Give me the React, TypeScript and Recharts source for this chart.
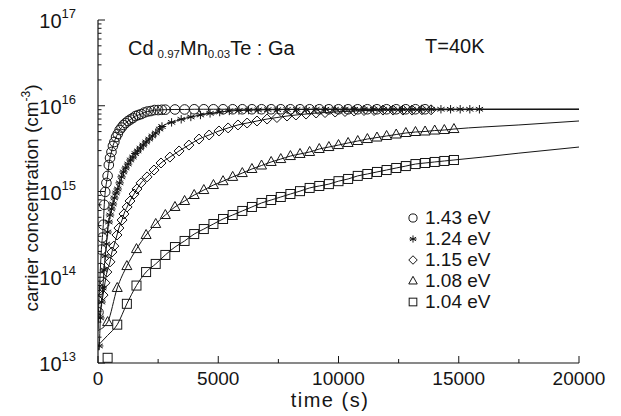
import React from "react";
import { ComposedChart, Line, Scatter, XAxis, YAxis, Legend } from "recharts";

document.body.style.margin = "0";

const FONT = '"Liberation Sans", Arial, Helvetica, sans-serif';
const INK = "#151515";

// 1.43 eV (circles)
const circT = [20, 60, 100, 140, 180, 220, 260, 300, 350, 400, 450, 500, 560, 620, 680, 750, 820, 900, 980, 1060, 1150, 1250, 1350, 1450, 1560, 1680, 1800, 1930, 2060, 2200, 2350, 2500, 2650, 2800, 3200, 3600, 4000, 4400, 4800, 5200, 5600, 6000, 6400, 6800, 7200, 7600, 8000, 8400, 8800, 9200, 9600, 10000, 10400, 10800, 11200, 11600, 12000, 12400, 12800, 13200, 13600];
const circV = [3.9e13, 7.1e13, 1.28e14, 2.1e14, 2.9e14, 4.1e14, 7.0e14, 9.9e14, 1.26e15, 1.52e15, 2.04e15, 2.46e15, 2.89e15, 3.4e15, 3.78e15, 4.32e15, 4.69e15, 5.21e15, 5.57e15, 5.97e15, 6.29e15, 6.64e15, 6.92e15, 7.2e15, 7.59e15, 7.8e15, 8.0e15, 8.34e15, 8.57e15, 8.68e15, 8.91e15, 8.91e15, 8.97e15, 9.0e15, 9.05e15, 9.05e15, 9.1e15, 9.1e15, 9.1e15, 9.1e15, 9.1e15, 9.1e15, 9.1e15, 9.1e15, 9.1e15, 9.1e15, 9.1e15, 9.1e15, 9.1e15, 9.1e15, 9.1e15, 9.1e15, 9.1e15, 9.1e15, 9.1e15, 9.1e15, 9.1e15, 9.1e15, 9.1e15, 9.1e15, 9.1e15];
const circLineT = [0, 16000, 20000];
const circLineV = [2.5e13, 9.1e15, 9.1e15];

// 1.24 eV (stars)
const starT = [50, 100, 150, 200, 250, 300, 350, 400, 450, 500, 560, 620, 680, 750, 820, 900, 980, 1060, 1150, 1250, 1350, 1450, 1550, 1650, 1760, 1880, 2000, 2130, 2260, 2400, 2560, 2660, 3060, 3460, 3860, 4260, 4660, 5060, 5460, 5860, 6260, 6660, 7060, 7460, 7860, 8260, 8660, 9060, 9460, 9860, 10260, 10660, 11060, 11460, 11860, 12260, 12660, 13060, 13460, 13860, 14260, 14660, 15060, 15460, 15860];
const starV = [1.58e13, 3.35e13, 5.14e13, 7.5e13, 1.22e14, 1.77e14, 2.44e14, 3.37e14, 4.41e14, 5.32e14, 6.25e14, 7.15e14, 8.4e14, 9.6e14, 1.07e15, 1.26e15, 1.48e15, 1.69e15, 1.88e15, 2.09e15, 2.33e15, 2.52e15, 2.77e15, 2.97e15, 3.21e15, 3.48e15, 3.78e15, 4.09e15, 4.44e15, 4.81e15, 5.35e15, 5.73e15, 6.4e15, 6.95e15, 7.4e15, 7.8e15, 8.15e15, 8.45e15, 8.7e15, 8.8e15, 8.9e15, 8.95e15, 9.0e15, 9.0e15, 9.05e15, 9.05e15, 9.05e15, 9.1e15, 9.1e15, 9.1e15, 9.1e15, 9.1e15, 9.1e15, 9.1e15, 9.1e15, 9.1e15, 9.1e15, 9.1e15, 9.1e15, 9.1e15, 9.1e15, 9.1e15, 9.1e15, 9.1e15, 9.1e15];
const starLineT = [0, 17500, 20000];
const starLineV = [1.4e13, 9.1e15, 9.1e15];

// 1.15 eV (diamonds)
const diaT = [210, 290, 370, 500, 580, 660, 790, 870, 1000, 1080, 1210, 1330, 1500, 1620, 1790, 2040, 2330, 2620, 2990, 3370, 3780, 4200, 4620, 5030, 5410, 5820, 6200, 6610, 7030, 7440, 7860, 8230, 8650, 9070, 9440, 9860, 10270, 10650, 11060, 11480, 11850, 12270, 12680, 13060, 13470, 13850];
const diaV = [6.2e13, 8.6e13, 1.15e14, 1.51e14, 1.97e14, 2.31e14, 3.11e14, 3.75e14, 4.65e14, 5.47e14, 6.6e14, 7.75e14, 9.35e14, 1.07e15, 1.26e15, 1.48e15, 1.78e15, 2.15e15, 2.52e15, 2.97e15, 3.48e15, 4.09e15, 4.56e15, 5.08e15, 5.51e15, 5.97e15, 6.29e15, 6.64e15, 7.0e15, 7.29e15, 7.59e15, 7.8e15, 8.0e15, 8.23e15, 8.33e15, 8.45e15, 8.57e15, 8.68e15, 8.8e15, 8.8e15, 8.91e15, 8.91e15, 8.91e15, 8.91e15, 8.97e15, 8.97e15];
const diaLineT = [0, 16000, 20000];
const diaLineV = [3.0e13, 9.05e15, 9.1e15];

// 1.08 eV (triangles)
const triT = [400, 800, 1200, 1600, 2000, 2400, 2800, 3200, 3600, 4000, 4400, 4800, 5200, 5600, 6000, 6400, 6800, 7200, 7600, 8000, 8400, 8800, 9200, 9600, 10000, 10400, 10800, 11200, 11600, 12000, 12400, 12800, 13200, 13600, 14000, 14400, 14800];
const triV = [3.0e13, 7.5e13, 1.35e14, 2.13e14, 3.11e14, 4.18e14, 5.32e14, 6.6e14, 7.75e14, 9.1e14, 1.04e15, 1.19e15, 1.32e15, 1.48e15, 1.64e15, 1.83e15, 2.01e15, 2.21e15, 2.39e15, 2.59e15, 2.74e15, 2.89e15, 3.13e15, 3.3e15, 3.48e15, 3.68e15, 3.88e15, 4.09e15, 4.26e15, 4.44e15, 4.62e15, 4.81e15, 4.94e15, 5.01e15, 5.14e15, 5.21e15, 5.35e15];
const triLineT = [0, 16000, 17500, 20000];
const triLineV = [2.4e13, 5.65e15, 5.97e15, 6.64e15];

// 1.04 eV (squares)
const sqT = [400, 800, 1200, 1600, 2000, 2400, 2800, 3200, 3600, 4000, 4400, 4800, 5200, 5600, 6000, 6400, 6800, 7200, 7600, 8000, 8400, 8800, 9200, 9600, 10000, 10400, 10800, 11200, 11600, 12000, 12400, 12800, 13200, 13600, 14000, 14400, 14800];
const sqV = [1.15e13, 2.8e13, 4.9e13, 8.0e13, 1.15e14, 1.43e14, 1.82e14, 2.25e14, 2.65e14, 3.19e14, 3.65e14, 4.18e14, 4.78e14, 5.32e14, 5.93e14, 6.6e14, 7.35e14, 7.96e14, 8.63e14, 9.35e14, 1.01e15, 1.1e15, 1.16e15, 1.22e15, 1.32e15, 1.4e15, 1.52e15, 1.6e15, 1.69e15, 1.78e15, 1.88e15, 1.98e15, 2.09e15, 2.15e15, 2.21e15, 2.27e15, 2.33e15];
const sqOutlierT = [400];
const sqLineT = [0, 400, 16000, 17500, 20000];
const sqLineV = [1.6e13, 2.1e13, 2.52e15, 2.8e15, 3.3e15];

const xTicks = [0, 2500, 5000, 7500, 10000, 12500, 15000, 17500, 20000];
const yMajor = [1e13, 1e14, 1e15, 1e16, 1e17];
const yMinorMantissa = [2, 3, 4, 5, 6, 7, 8, 9];
const yTicks = [
  ...yMajor,
  ...yMajor.slice(0, -1).flatMap((d) => yMinorMantissa.map((m) => m * d)),
].sort((a, b) => a - b);

type Pt = { t: number; v: number };
const toPts = (ts: number[], vs: number[]): Pt[] => ts.map((t, i) => ({ t, v: vs[i] }));
const fitOf = (pts: Pt[], lt: number[], lv: number[], skip: number[] = []) =>
  [...pts.filter((p) => !skip.includes(p.t)), ...toPts(lt, lv)].sort((a, b) => a.t - b.t);

type Kind = "circle" | "star" | "diamond" | "triangle" | "square";

const series: { name: string; kind: Kind; pts: Pt[]; fit: Pt[] }[] = [
  { name: "1.43 eV", kind: "circle", pts: toPts(circT, circV), fit: fitOf(toPts(circT, circV), circLineT, circLineV) },
  { name: "1.24 eV", kind: "star", pts: toPts(starT, starV), fit: fitOf(toPts(starT, starV), starLineT, starLineV) },
  { name: "1.15 eV", kind: "diamond", pts: toPts(diaT, diaV), fit: fitOf(toPts(diaT, diaV), diaLineT, diaLineV) },
  { name: "1.08 eV", kind: "triangle", pts: toPts(triT, triV), fit: fitOf(toPts(triT, triV), triLineT, triLineV) },
  { name: "1.04 eV", kind: "square", pts: toPts(sqT, sqV), fit: fitOf(toPts(sqT, sqV), sqLineT, sqLineV, sqOutlierT) },
];

function Marker({ kind, cx, cy, s = 1 }: { kind: Kind; cx: number; cy: number; s?: number }) {
  const st = { fill: "none", stroke: INK, strokeWidth: 1 };
  if (cx == null || cy == null) return null;
  switch (kind) {
    case "circle":
      return <circle cx={cx} cy={cy} r={4.8 * s} {...st} />;
    case "star": {
      const r = 4.2 * s;
      return (
        <g {...st}>
          {[90, 30, 150, 0].map((a) => {
            const dx = r * Math.cos((a * Math.PI) / 180);
            const dy = r * Math.sin((a * Math.PI) / 180);
            return <line key={a} x1={cx - dx} y1={cy - dy} x2={cx + dx} y2={cy + dy} />;
          })}
        </g>
      );
    }
    case "diamond": {
      const r = 5 * s;
      return <polygon points={`${cx},${cy - r} ${cx + r},${cy} ${cx},${cy + r} ${cx - r},${cy}`} {...st} />;
    }
    case "triangle": {
      const r = 5 * s;
      return <polygon points={`${cx},${cy - r * 1.1} ${cx + r},${cy + r * 0.7} ${cx - r},${cy + r * 0.7}`} {...st} />;
    }
    case "square": {
      const r = 4.5 * s;
      return <rect x={cx - r} y={cy - r} width={2 * r} height={2 * r} {...st} />;
    }
  }
  return null;
}

function BottomTick(props: any) {
  const { x, y, payload } = props;
  const major = payload.value % 5000 === 0;
  return (
    <g>
      <line x1={x} x2={x} y1={y} y2={y - (major ? 7 : 4)} stroke={INK} />
      {major && (
        <text x={x} y={y + 22} textAnchor="middle" fontSize={19} fontFamily={FONT} fill={INK}>
          {payload.value}
        </text>
      )}
    </g>
  );
}

function TopTick(props: any) {
  const { x, y, payload } = props;
  const major = payload.value % 5000 === 0;
  return <line x1={x} x2={x} y1={y} y2={y + (major ? 7 : 4)} stroke={INK} />;
}

const isMajor = (v: number) => yMajor.some((m) => Math.abs(v / m - 1) < 1e-9);

function LeftTick(props: any) {
  const { x, y, payload } = props;
  const v = payload.value;
  const major = isMajor(v);
  const exp = Math.round(Math.log10(v));
  return (
    <g>
      <line x1={x} x2={x + (major ? 7 : 3.5)} y1={y} y2={y} stroke={INK} />
      {major && (
        <text x={x - 22} y={y + 8} textAnchor="end" fontSize={20} fontFamily={FONT} fill={INK}>
          10
          <tspan fontSize={13} dy={-10}>
            {exp}
          </tspan>
        </text>
      )}
    </g>
  );
}

function RightTick(props: any) {
  const { x, y, payload } = props;
  const major = isMajor(payload.value);
  return <line x1={x} x2={x - (major ? 7 : 3.5)} y1={y} y2={y} stroke={INK} />;
}

function LegendBox() {
  return (
    <div style={{ fontFamily: FONT, fontSize: 19, color: INK, lineHeight: "21px" }}>
      {series.map((s) => (
        <div key={s.name} style={{ display: "flex", alignItems: "center", height: 21 }}>
          <svg width={14} height={14} style={{ marginRight: 5 }}>
            <Marker kind={s.kind} cx={7} cy={7} s={0.85} />
          </svg>
          <span>{s.name}</span>
        </div>
      ))}
    </div>
  );
}

export default function App() {
  const axisLine = { stroke: INK, strokeWidth: 1.2 };
  return (
    <div style={{ position: "relative", width: 621, height: 416, background: "#fff" }}>
      <ComposedChart width={621} height={416} margin={{ top: 20, right: 42, bottom: 0, left: 0 }}>
        <XAxis
          xAxisId="b"
          type="number"
          dataKey="t"
          domain={[0, 20000]}
          ticks={xTicks}
          interval={0}
          height={53}
          tickSize={0}
          tickMargin={0}
          tickLine={false}
          axisLine={axisLine}
          tick={BottomTick}
          allowDataOverflow
        />
        <XAxis
          xAxisId="top"
          orientation="top"
          type="number"
          dataKey="t"
          domain={[0, 20000]}
          ticks={xTicks}
          interval={0}
          height={0}
          tickSize={0}
          tickMargin={0}
          tickLine={false}
          axisLine={axisLine}
          tick={TopTick}
          allowDataOverflow
        />
        <YAxis
          yAxisId="l"
          type="number"
          dataKey="v"
          scale="log"
          domain={[1e13, 1e17]}
          ticks={yTicks}
          interval={0}
          width={98}
          tickSize={0}
          tickMargin={0}
          tickLine={false}
          axisLine={axisLine}
          tick={LeftTick}
          allowDataOverflow
        />
        <YAxis
          yAxisId="r"
          orientation="right"
          type="number"
          dataKey="v"
          scale="log"
          domain={[1e13, 1e17]}
          ticks={yTicks}
          interval={0}
          width={0}
          tickSize={0}
          tickMargin={0}
          tickLine={false}
          axisLine={axisLine}
          tick={RightTick}
          allowDataOverflow
        />
        {series.map((s) => (
          <Line
            key={s.name + "-fit"}
            xAxisId="b"
            yAxisId="l"
            data={s.fit}
            dataKey="v"
            type="monotone"
            stroke={INK}
            strokeWidth={1}
            dot={false}
            activeDot={false}
            legendType="none"
            isAnimationActive={false}
          />
        ))}
        {series.map((s) => (
          <Scatter
            key={s.name}
            name={s.name}
            xAxisId="b"
            yAxisId="l"
            data={s.pts}
            dataKey="v"
            shape={(p: any) => <Marker kind={s.kind} cx={p.cx} cy={p.cy} />}
            isAnimationActive={false}
          />
        ))}
        <Legend
          layout="vertical"
          align="center"
          verticalAlign="middle"
          content={() => <LegendBox />}
          wrapperStyle={{ position: "absolute", left: 406, top: 207, width: 110, height: 110 }}
        />
      </ComposedChart>
      <svg
        width={621}
        height={416}
        style={{ position: "absolute", left: 0, top: 0, pointerEvents: "none" }}
        fontFamily={FONT}
        fill={INK}
      >
        <text x={128} y={55} fontSize={20}>
          Cd
          <tspan dx={4} dy={3} fontSize={11.5}>0.97</tspan>
          <tspan dy={-3} fontSize={20}>Mn</tspan>
          <tspan dy={3} fontSize={11.5}>0.03</tspan>
          <tspan dy={-3} fontSize={20}>Te : Ga</tspan>
        </text>
        <text x={425} y={53} fontSize={20}>
          T=40K
        </text>
        <text x={330} y={407} fontSize={20} textAnchor="middle" letterSpacing={1.5}>
          time (s)
        </text>
        <text x={38} y={198} fontSize={19} textAnchor="middle" transform="rotate(-90 38 198)">
          carrier concentration (cm
          <tspan fontSize={12} dy={-8}>-3</tspan>
          <tspan dy={8}>)</tspan>
        </text>
      </svg>
    </div>
  );
}
